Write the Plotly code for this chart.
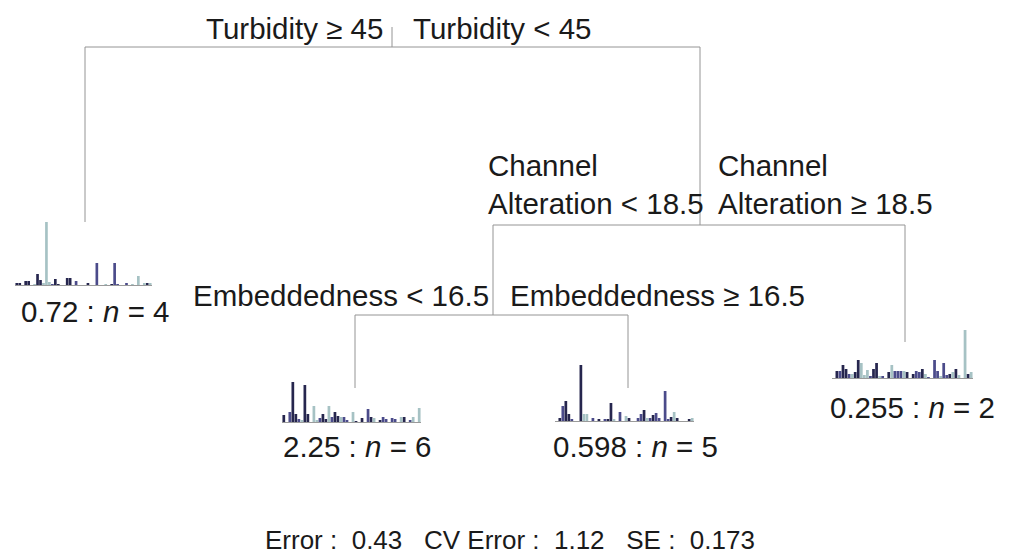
import plotly.graph_objects as go

# ---------------- data ----------------
species = list(range(46))

leaf_labels = ["0.72 : <i>n</i> = 4", "2.25 : <i>n</i> = 6", "0.598 : <i>n</i> = 5", "0.255 : <i>n</i> = 2"]

leaf1_vals = {0: 1.5, 1: 1.5, 3: 4, 4: 4, 6: 1, 7: 11, 8: 5, 9: 2, 10: 63, 11: 3, 12: 1, 13: 6,
              14: 1, 17: 7, 18: 7, 20: 4, 24: 2, 27: 22, 30: 1, 32: 1, 33: 22, 34: 1, 37: 2,
              39: 1, 41: 9, 43: 2, 44: 2, 45: 2}
leaf2_vals = {0: 7, 2: 10, 3: 40, 4: 8, 5: 3, 6: 2, 7: 37, 8: 8, 10: 16, 11: 2, 12: 4, 13: 8,
              14: 3, 15: 16, 16: 5, 17: 10, 18: 6, 19: 5, 20: 5, 21: 2, 23: 10, 24: 1, 26: 4,
              28: 13, 29: 5, 30: 4, 32: 2, 33: 5, 34: 3, 36: 4, 37: 3, 39: 5, 40: 5, 42: 2,
              43: 5, 45: 14}
leaf3_vals = {1: 3, 2: 15, 3: 20, 4: 7, 5: 2, 8: 56, 9: 7, 10: 7, 12: 3, 14: 2, 16: 2, 17: 2,
              18: 18, 19: 2, 21: 9, 23: 5, 24: 3, 27: 3, 28: 7, 29: 11, 30: 3, 31: 3, 32: 6,
              33: 8, 34: 3, 36: 30, 37: 2, 38: 4, 39: 9, 40: 3, 44: 2, 45: 3}
leaf4_vals = {1: 7, 2: 7, 3: 13, 4: 9, 5: 4, 6: 4, 7: 6, 8: 18, 9: 15, 10: 3, 11: 8, 12: 2,
              13: 9, 14: 15, 15: 2, 16: 2, 18: 6, 19: 13, 20: 7, 21: 7, 22: 7, 23: 7, 24: 6,
              26: 4, 27: 7, 28: 6, 29: 9, 30: 4, 31: 1, 33: 18, 34: 7, 35: 2, 36: 15, 37: 3,
              38: 4, 39: 6, 40: 9, 41: 3, 43: 48, 44: 4, 45: 6}

split_labels = {
    "root_left": "Turbidity ≥ 45",
    "root_right": "Turbidity &lt; 45",
    "chan_left": "Channel<br>Alteration &lt; 18.5",
    "chan_right": "Channel<br>Alteration ≥ 18.5",
    "emb_left": "Embeddedness &lt; 16.5",
    "emb_right": "Embeddedness ≥ 16.5",
}
footer = "Error :\u00a0 0.43\u00a0\u00a0 CV Error :\u00a0 1.12\u00a0\u00a0 SE :\u00a0 0.173"

# ---------------- style ----------------
D, M, L = "#26264e", "#4b4b8a", "#a6c2c4"
species_colors = [D, D, M, D, D, M, L, D, D, L, L, L, M, D, D, L, M, D, D, L, M, M, M, L, D, M,
                  D, M, M, D, L, M, D, M, M, L, M, M, D, L, D, L, M, L, D, L]

W, H = 1010, 556
LINE = "#949494"
FONT = dict(family="Arial, Liberation Sans, sans-serif", size=29.5, color="#1a1a1a")
FOOT_FONT = dict(family="Arial, Liberation Sans, sans-serif", size=26, color="#1a1a1a")

fig = go.Figure()

# invisible trace for main pixel axes
fig.add_trace(go.Scatter(x=[0, W], y=[0, H], mode="markers", marker=dict(opacity=0),
                         hoverinfo="skip", showlegend=False, xaxis="x", yaxis="y"))

# tree branches (pixel layout)
segs = [
    (392, 27, 392, 47),
    (85, 47, 700, 47),
    (85, 47, 85, 222),
    (700, 47, 700, 225),
    (493, 225, 905, 225),
    (493, 225, 493, 315),
    (905, 225, 905, 342),
    (355, 315, 628, 315),
    (355, 315, 355, 388),
    (628, 315, 628, 388),
]
for x0, y0, x1, y1 in segs:
    fig.add_shape(type="line", x0=x0, y0=y0, x1=x1, y1=y1, xref="x", yref="y",
                  line=dict(color=LINE, width=1))

# leaf bar charts
leaf_boxes = [  # (x_left, x_right, baseline_y)
    (15, 152, 285),
    (282, 421, 422),
    (555, 694, 421),
    (832, 973, 378),
]
YMAX = 66
leaves = [leaf1_vals, leaf2_vals, leaf3_vals, leaf4_vals]
for i, (vals, (xl, xr, base)) in enumerate(zip(leaves, leaf_boxes), start=2):
    yvals = [vals.get(s, 0) for s in species]
    fig.add_trace(go.Bar(x=species, y=yvals, marker=dict(color=species_colors, line=dict(width=0)),
                         xaxis=f"x{i}", yaxis=f"y{i}", showlegend=False, hoverinfo="skip"))
    fig.update_layout(**{
        f"xaxis{i}": dict(domain=[xl / W, xr / W], range=[-0.6, 45.6], showgrid=False,
                          zeroline=False, showticklabels=False, ticks="", showline=True,
                          linecolor="#9a9a9a", linewidth=1, anchor=f"y{i}"),
        f"yaxis{i}": dict(domain=[(H - base) / H, (H - base + YMAX) / H], range=[0, YMAX],
                          showgrid=False, zeroline=False, showticklabels=False, ticks="",
                          showline=False, anchor=f"x{i}"),
    })

ann = []
def add(text, x, y, xanchor, align="left"):
    ann.append(dict(text=text, x=x, y=y, xref="x", yref="y", xanchor=xanchor, yanchor="middle",
                    showarrow=False, font=FONT, align=align))

add(split_labels["root_left"], 385, 28, "right")
add(split_labels["root_right"], 411, 28, "left")
add(split_labels["chan_left"], 706, 184, "right", "left")
add(split_labels["chan_right"], 716, 184, "left", "left")
add(split_labels["emb_left"], 491, 295, "right")
add(split_labels["emb_right"], 508, 295, "left")
add(leaf_labels[0], 19, 311, "left")
add(leaf_labels[1], 281, 446, "left")
add(leaf_labels[2], 551, 446, "left")
add(leaf_labels[3], 828, 407, "left")
ann.append(dict(text=footer, x=510, y=540, xref="x", yref="y", xanchor="center", yanchor="middle",
                showarrow=False, font=FOOT_FONT))

fig.update_layout(
    width=W, height=H, margin=dict(l=0, r=0, t=0, b=0),
    paper_bgcolor="white", plot_bgcolor="white",
    xaxis=dict(domain=[0, 1], range=[0, W], visible=False, fixedrange=True),
    yaxis=dict(domain=[0, 1], range=[H, 0], visible=False, fixedrange=True),
    bargap=0.1,
    annotations=ann,
    showlegend=False,
)

fig.write_html("out.html", config={"displayModeBar": False},
               post_script="document.body.style.margin='0';document.body.style.overflow='hidden';")
